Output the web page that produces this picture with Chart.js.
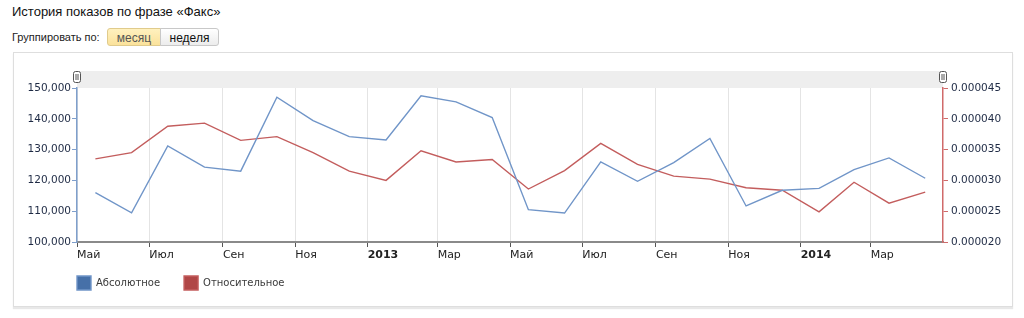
<!DOCTYPE html>
<html>
<head>
<meta charset="utf-8">
<script src="https://cdn.jsdelivr.net/npm/chart.js@4"></script>
<style>
body{margin:0;background:#fff;font-family:"Liberation Sans",Arial,sans-serif;}
#title{position:absolute;left:12px;top:4px;font-size:13px;color:#111;}
#group{position:absolute;left:12px;top:31px;font-size:11px;color:#222;}
.btn{position:absolute;top:28px;height:18px;line-height:18px;font-size:12px;text-align:center;border:1px solid #c8c8c8;box-sizing:border-box;}
#month{left:107px;width:54px;background:linear-gradient(#fff1bf,#fbe29b);border-color:#e0cb8c;color:#555;border-radius:3px 0 0 3px;}
#week{left:160px;width:59px;background:linear-gradient(#fff,#ececec);color:#111;border-radius:0 3px 3px 0;}
#box{position:absolute;left:13px;top:52px;width:1000px;height:255px;border:1px solid #dedede;box-sizing:border-box;box-shadow:0 2px 1px #e8e8e8;}
#wrap{position:absolute;left:14px;top:53px;width:998px;height:253px;}
</style>
</head>
<body>
<div id="title">История показов по фразе «Факс»</div>
<div id="group">Группировать по:</div>
<div class="btn" id="month">месяц</div>
<div class="btn" id="week">неделя</div>
<div id="box"></div>
<div id="wrap"><canvas id="myChart"></canvas></div>
<script>
'use strict';
// monthly values, May 2012 .. Apr 2014
var months=['2012-05','2012-06','2012-07','2012-08','2012-09','2012-10','2012-11','2012-12',
  '2013-01','2013-02','2013-03','2013-04','2013-05','2013-06','2013-07','2013-08','2013-09','2013-10','2013-11','2013-12',
  '2014-01','2014-02','2014-03','2014-04'];
var absoluteVals=[116000,109500,131200,124300,123000,147000,139400,134200,133100,147500,145500,140400,
  110500,109400,126000,119700,125800,133600,111700,116800,117400,123500,127300,120700];
var relativeVals=[3.35e-5,3.45e-5,3.88e-5,3.93e-5,3.65e-5,3.71e-5,3.45e-5,3.15e-5,3.00e-5,3.48e-5,3.30e-5,3.34e-5,
  2.86e-5,3.16e-5,3.60e-5,3.26e-5,3.07e-5,3.02e-5,2.88e-5,2.84e-5,2.49e-5,2.97e-5,2.63e-5,2.81e-5];
var tickMonths=['2012-05','2012-07','2012-09','2012-11','2013-01','2013-03','2013-05','2013-07','2013-09','2013-11','2014-01','2014-03'];
var tickLabels=['Май','Июл','Сен','Ноя','2013','Мар','Май','Июл','Сен','Ноя','2014','Мар'];
var seriesNames=['Абсолютное','Относительное'];

var startDay=Date.UTC(2012,4,1);
var endMonth='2014-05';
function dayOf(m){
  var p=m.split('-');
  return (Date.UTC(+p[0],+p[1]-1,1)-startDay)/86400000;
}
function midOf(m){
  var p=m.split('-');
  var a=Date.UTC(+p[0],+p[1]-1,1), b=Date.UTC(+p[0],+p[1],1);
  return ((a+b)/2-startDay)/86400000;
}
var absPoints=months.map(function(m,i){return {x:midOf(m),y:absoluteVals[i]};});
var relPoints=months.map(function(m,i){return {x:midOf(m),y:relativeVals[i]};});
var tickDays=tickMonths.map(dayOf);

var font='"DejaVu Sans", Verdana, sans-serif';
Chart.defaults.font.family=font;
Chart.defaults.font.size=11;
Chart.defaults.color='#2a2f3a';

var LEG_PAD=24;

var extras={
  id:'extras',
  afterLayout:function(chart){
    // put legend under the plot, lined up with the left axis
    var lg=chart.legend, a=chart.chartArea;
    var dx=a.left-LEG_PAD-lg.left;
    lg.left+=dx; lg.right+=dx;
    lg.top=a.bottom+34-LEG_PAD;
    lg.bottom=lg.top+LEG_PAD+24;
    lg.height=lg.bottom-lg.top;
  },
  beforeDraw:function(chart){
    var c=chart.ctx, a=chart.chartArea;
    c.save();
    c.fillStyle='#eeeeee';
    c.fillRect(a.left,a.top-17,a.right-a.left,17);
    [a.left,a.right].forEach(function(x){
      c.fillStyle='#fff';
      c.strokeStyle='#555';
      c.lineWidth=1;
      c.beginPath();
      c.roundRect(Math.round(x)-3.5,a.top-16.5,7,11,2);
      c.fill();c.stroke();
      c.beginPath();
      c.moveTo(Math.round(x)-1,a.top-14);c.lineTo(Math.round(x)-1,a.top-8);
      c.moveTo(Math.round(x)+1,a.top-14);c.lineTo(Math.round(x)+1,a.top-8);
      c.stroke();
    });
    c.restore();
  }
};

var ctx=document.getElementById('myChart').getContext('2d');
var chart=new Chart(ctx,{
  type:'line',
  data:{
    datasets:[{
      label:seriesNames[0],
      data:absPoints,
      yAxisID:'y',
      borderColor:'#7095c8',
      backgroundColor:'#4670a8',
      borderWidth:1.4,
      pointRadius:0,
      tension:0
    },{
      label:seriesNames[1],
      data:relPoints,
      yAxisID:'y1',
      borderColor:'#c35d5d',
      backgroundColor:'#b04646',
      borderWidth:1.4,
      pointRadius:0,
      tension:0
    }]
  },
  options:{
    responsive:true,
    maintainAspectRatio:false,
    animation:false,
    layout:{padding:{top:35,left:0,right:0,bottom:14}},
    plugins:{
      tooltip:{enabled:false},
      legend:{
        position:'bottom',
        align:'start',
        maxHeight:30,
        labels:{boxWidth:14,boxHeight:14,padding:LEG_PAD,color:'#3a3a3a',font:{size:10}}
      }
    },
    scales:{
      x:{
        type:'linear',
        min:0,
        max:dayOf(endMonth),
        afterBuildTicks:function(s){s.ticks=tickDays.map(function(v){return {value:v};});},
        afterFit:function(s){s.height=20;},
        ticks:{
          autoSkip:false,maxRotation:0,align:'start',padding:2,color:'#222',
          callback:function(v,i){return tickLabels[i];},
          font:function(c){return (c.tick&&/^\d{4}$/.test(tickLabels[c.index]))?{weight:'bold',size:11}:{size:11};}
        },
        grid:{color:'#e4e4e4',tickColor:'#555',tickLength:5},
        border:{color:'#8a8a8a',width:2}
      },
      y:{
        position:'left',
        min:100000,max:150000,
        afterFit:function(s){s.width=63;},
        ticks:{stepSize:10000,padding:1,color:'#1e2a44',font:{size:10.5},callback:function(v){return v.toLocaleString('en-US');}},
        grid:{drawOnChartArea:false,tickLength:5,tickColor:'#7f9fcc'},
        border:{color:'#7f9fcc',width:1.5}
      },
      y1:{
        position:'right',
        min:0.00002,max:0.000045,
        afterFit:function(s){s.width=69;},
        ticks:{stepSize:0.000005,padding:3,color:'#1e2a44',font:{size:10.5},callback:function(v){return v.toFixed(6);}},
        grid:{drawOnChartArea:false,tickLength:5,tickColor:'#d06a6a'},
        border:{color:'#d06a6a',width:1.5}
      }
    }
  },
  plugins:[extras]
});
</script>
</body>
</html>
